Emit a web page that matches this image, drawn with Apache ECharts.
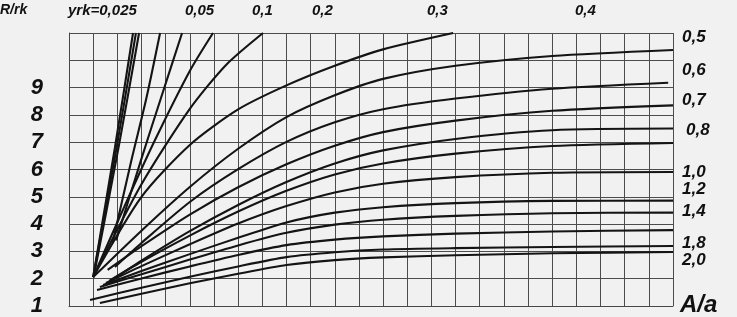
<!DOCTYPE html>
<html>
<head>
<meta charset="utf-8">
<script src="https://cdn.jsdelivr.net/npm/echarts@6/dist/echarts.min.js"></script>
<style>
  html, body { margin: 0; padding: 0; background: #f1f1f1; }
  #chart { width: 737px; height: 317px; }
</style>
</head>
<body>
<div id="chart"></div>
<script>
// ---- tick labels ----
const yTickLabels = ['1', '2', '3', '4', '5', '6', '7', '8', '9'];
const topCurveLabels = ['yrk=0,025', '0,05', '0,1', '0,2', '0,3', '0,4'];
const rightCurveLabels = ['0,5', '0,6', '0,7', '0,8', '1,0', '1,2', '1,4', '1,8', '2,0'];

// ---- curves [A/a (grid units), R/rk] ----
// steep curves leaving the top edge
const c0025a = [[1.0, 2.06], [1.9, 6.8], [2.65, 11]];
const c0025b = [[1.0, 2.06], [1.97, 6.8], [2.77, 11]];
const c0025c = [[1.02, 2.06], [2.05, 6.8], [2.9, 11]];
const c005a  = [[1.8, 3.3], [2.6, 6.4], [3.2, 8.6], [3.77, 11]];
const c005b  = [[1.95, 3.4], [3.0, 6.4], [3.8, 8.6], [4.68, 11]];
const c01    = [[1.0, 2.06], [2.3, 4.66], [3.56, 7.08], [5.0, 9.61], [5.96, 11]];
const c02    = [[1.0, 2.06], [3, 5.46], [5, 8.22], [6.5, 9.83], [8.03, 11]];
const c03    = [[1.0, 2.06], [3, 5.0], [5, 6.9], [7, 8.2], [9, 9.08], [11, 9.8], [13, 10.4], [15.9, 11]];
// flatter curves leaving the right edge
const c05 = [[1, 2.06], [3, 3.76], [5, 5.36], [7, 6.76], [9, 7.92], [11, 8.72], [13, 9.32], [16, 9.8], [20, 10.16], [25, 10.38]];
const c06 = [[1.9, 2.43], [3, 3.31], [5, 4.81], [7, 6.01], [9, 7.01], [11, 7.73], [13, 8.21], [16, 8.6], [20, 8.96], [24.8, 9.18]];
const c07 = [[1.6, 2.32], [3, 3.19], [5, 4.35], [7, 5.35], [9, 6.19], [11, 6.87], [13, 7.37], [16, 7.79], [20, 8.15], [25, 8.35]];
const c08 = [[1.78, 1.95], [3, 2.66], [5, 3.74], [7, 4.7], [9, 5.54], [11, 6.22], [13, 6.7], [16, 7.12], [20, 7.44], [25, 7.5]];
const c09 = [[1.66, 1.92], [3, 2.62], [5, 3.58], [7, 4.46], [9, 5.22], [11, 5.82], [13, 6.22], [16, 6.58], [20, 6.86], [25, 6.97]];
const c10 = [[1.53, 1.84], [3, 2.46], [5, 3.26], [7, 4.02], [9, 4.66], [11, 5.16], [13, 5.48], [16, 5.72], [20, 5.88], [25, 5.91]];
const c12 = [[1.41, 1.77], [3, 2.28], [5, 2.9], [7, 3.5], [9, 4.06], [11, 4.42], [13, 4.62], [16, 4.77], [20, 4.85], [25, 4.86]];
const c14 = [[1.28, 1.7], [3, 2.16], [5, 2.7], [7, 3.22], [9, 3.68], [11, 3.98], [13, 4.16], [16, 4.3], [20, 4.4], [25, 4.42]];
const c16 = [[1.16, 1.59], [3, 2.01], [5, 2.45], [7, 2.87], [9, 3.23], [11, 3.43], [13, 3.55], [16, 3.65], [20, 3.73], [25, 3.78]];
const c18 = [[0.87, 1.22], [3, 1.67], [5, 2.07], [7, 2.45], [9, 2.79], [11, 2.97], [13, 3.07], [16, 3.12], [20, 3.16], [25, 3.2]];
const c20 = [[1.28, 1.11], [3, 1.45], [5, 1.83], [7, 2.18], [9, 2.5], [11, 2.68], [13, 2.78], [16, 2.86], [20, 2.93], [25, 2.98]];

const curves = [c0025a, c0025b, c0025c, c005a, c005b, c01, c02, c03,
                c05, c06, c07, c08, c09, c10, c12, c14, c16, c18, c20];

const FONT = '"Liberation Sans", Arial, sans-serif';
const chart = echarts.init(document.getElementById('chart'));

const series = curves.map((d) => ({
  type: 'line',
  data: d,
  symbol: 'none',
  smooth: 0.25,
  clip: true,
  silent: true,
  lineStyle: { color: '#141414', width: 2.1 }
}));

function txt(text, x, y, size, align) {
  return {
    type: 'text',
    x: x, y: y,
    silent: true,
    style: {
      text: text,
      fill: '#111',
      font: 'italic bold ' + size + 'px ' + FONT,
      textAlign: align || 'left',
      textVerticalAlign: 'middle',
      verticalAlign: 'middle'
    }
  };
}

const topX = [68, 185, 252, 312, 427, 575];
const rightY = [37, 70, 100, 130, 172, 189, 211, 243, 260];
const graphics = [txt('R/rk', 0, 10, 14)];
topCurveLabels.forEach((t, i) => graphics.push(txt(t, topX[i], 11, 15)));
rightCurveLabels.forEach((t, i) => graphics.push(txt(t, i === 3 ? 686 : 682, rightY[i], 17)));
graphics.push(txt('A/a', 680, 305, 24));

chart.setOption({
  backgroundColor: '#f1f1f1',
  animation: false,
  grid: { left: 69, right: 64, top: 33, bottom: 11, containLabel: false },
  xAxis: {
    type: 'value', min: 0, max: 25, interval: 1,
    axisLine: { show: true, lineStyle: { color: '#484848', width: 1 } },
    axisTick: { show: false },
    axisLabel: { show: false },
    splitLine: { show: true, lineStyle: { color: '#4c4c4c', width: 1 } }
  },
  yAxis: {
    type: 'value', min: 1, max: 11, interval: 1,
    axisLine: { show: true, lineStyle: { color: '#484848', width: 1 } },
    axisTick: { show: false },
    axisLabel: {
      show: true,
      margin: 26,
      padding: [0, 0, 15, 0],
      color: '#111',
      fontSize: 22,
      fontWeight: 'bold',
      fontStyle: 'italic',
      fontFamily: FONT,
      formatter: function (v) {
        const k = Math.round(v);
        return (k >= 1 && k <= 9) ? yTickLabels[k - 1] : '';
      }
    },
    splitLine: { show: true, lineStyle: { color: '#4c4c4c', width: 1 } }
  },
  graphic: graphics,
  series: series
});
</script>
</body>
</html>
